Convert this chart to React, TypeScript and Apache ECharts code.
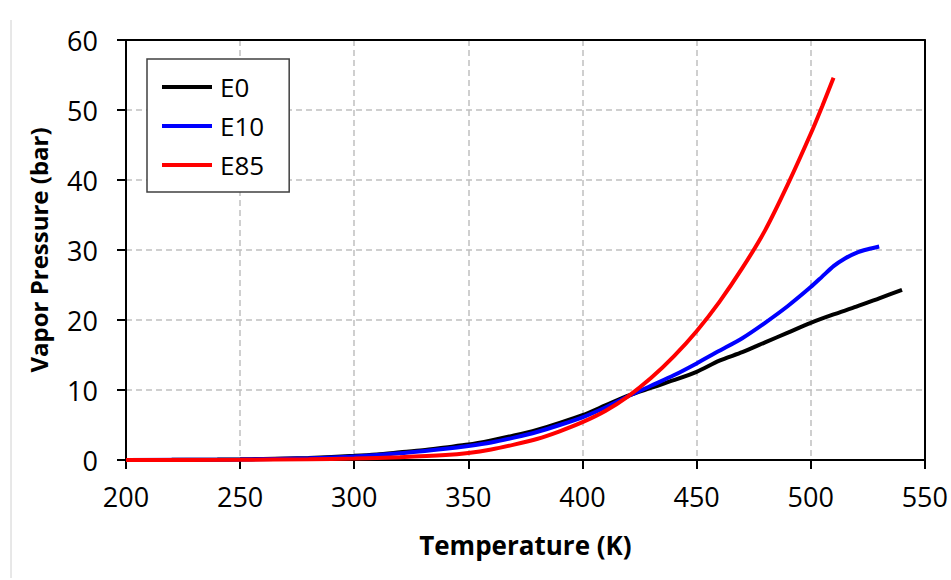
import React, { useEffect, useRef } from "react";
import * as echarts from "echarts";

const tempE0 = [200, 220, 240, 250, 260, 280, 300, 310, 320, 330, 340, 350, 360, 370, 380, 390, 400, 410, 420, 430, 440, 450, 460, 470, 480, 490, 500, 510, 520, 530, 540];
const presE0 = [0.0, 0.02, 0.06, 0.1, 0.15, 0.3, 0.6, 0.8, 1.1, 1.4, 1.8, 2.2, 2.8, 3.5, 4.3, 5.3, 6.4, 7.8, 9.2, 10.3, 11.4, 12.6, 14.2, 15.4, 16.8, 18.2, 19.6, 20.8, 21.9, 23.1, 24.3];

const tempE10 = [200, 250, 280, 300, 320, 340, 350, 360, 370, 380, 390, 400, 410, 420, 430, 440, 450, 460, 470, 480, 490, 500, 505, 510, 515, 520, 525, 530];
const presE10 = [0.0, 0.08, 0.25, 0.5, 0.95, 1.6, 2.0, 2.5, 3.2, 4.0, 5.0, 6.1, 7.5, 9.1, 10.6, 12.1, 13.8, 15.6, 17.4, 19.6, 22.0, 24.7, 26.2, 27.7, 28.8, 29.6, 30.1, 30.5];

const tempE85 = [200, 250, 280, 300, 320, 340, 350, 360, 370, 380, 390, 400, 410, 420, 430, 440, 450, 460, 470, 480, 490, 500, 505, 510];
const presE85 = [0.0, 0.03, 0.1, 0.2, 0.4, 0.7, 1.0, 1.5, 2.2, 3.0, 4.1, 5.4, 7.0, 9.1, 11.7, 14.8, 18.4, 22.6, 27.4, 32.8, 39.4, 46.6, 50.5, 54.6];

const seriesNames = ["E0", "E10", "E85"];
const seriesColors = ["#000000", "#0000ff", "#ff0000"];

const FONT = "'Open Sans', sans-serif";

function zip(xs: number[], ys: number[]) {
  return xs.map((x, i) => [x, ys[i]]);
}

export default function App() {
  const ref = useRef<HTMLDivElement>(null);
  useEffect(() => {
    if (!ref.current) return;
    const chart = echarts.init(ref.current, null, { renderer: "svg" });
    const datasets = [zip(tempE0, presE0), zip(tempE10, presE10), zip(tempE85, presE85)];
    const frameAxis = {
      type: "value",
      axisLine: { show: true, onZero: false, lineStyle: { color: "#000000", width: 2 } },
      axisTick: { show: false },
      axisLabel: { show: false },
      splitLine: { show: false },
    };
    chart.setOption({
      animation: false,
      backgroundColor: "#ffffff",
      grid: {
        left: 126,
        right: 24,
        top: 40,
        bottom: 120,
        show: false,
      },
      legend: {
        show: true,
        orient: "vertical",
        left: 147,
        top: 59,
        data: seriesNames,
        icon: "rect",
        itemWidth: 50,
        itemHeight: 4,
        itemGap: 13,
        padding: [15, 25, 14, 15],
        borderColor: "#404040",
        borderWidth: 1.5,
        backgroundColor: "#ffffff",
        textStyle: { fontFamily: FONT, fontSize: 26, color: "#000000", padding: [0, 0, 0, 3] },
      },
      xAxis: [
        {
          type: "value",
          min: 200,
          max: 550,
          interval: 50,
          name: "Temperature (K)",
          nameLocation: "middle",
          nameGap: 72,
          nameTextStyle: { fontFamily: FONT, fontSize: 26, fontWeight: "bold", color: "#000000" },
          axisLine: { show: true, onZero: false, lineStyle: { color: "#000000", width: 2 } },
          axisTick: { show: true, inside: false, length: 9, lineStyle: { color: "#000000", width: 2 } },
          axisLabel: { fontFamily: FONT, fontSize: 27, color: "#000000", margin: 23 },
          splitLine: { show: true, lineStyle: { color: "#c0c0c0", width: 1.5, type: [6, 4] } },
        },
        { ...frameAxis, position: "top", min: 200, max: 550 },
      ],
      yAxis: [
        {
          type: "value",
          min: 0,
          max: 60,
          interval: 10,
          name: "Vapor Pressure (bar)",
          nameLocation: "middle",
          nameGap: 76,
          nameTextStyle: { fontFamily: FONT, fontSize: 24, fontWeight: "bold", color: "#000000" },
          axisLine: { show: true, onZero: false, lineStyle: { color: "#000000", width: 2 } },
          axisTick: { show: true, inside: false, length: 9, lineStyle: { color: "#000000", width: 2 } },
          axisLabel: { fontFamily: FONT, fontSize: 27, color: "#000000", margin: 28 },
          splitLine: { show: true, lineStyle: { color: "#c0c0c0", width: 1.5, type: [6, 4] } },
        },
        { ...frameAxis, position: "right", min: 0, max: 60 },
      ],
      graphic: [
        {
          type: "line",
          shape: { x1: 11, y1: 20, x2: 11, y2: 578 },
          style: { stroke: "#d0d0d0", lineWidth: 1 },
          silent: true,
        },
      ],
      series: seriesNames.map((name, i) => ({
        name,
        type: "line",
        xAxisIndex: 0,
        yAxisIndex: 0,
        data: datasets[i],
        symbol: "none",
        smooth: 0.25,
        lineStyle: { color: seriesColors[i], width: 4 },
        itemStyle: { color: seriesColors[i] },
        z: 3 + i,
      })),
    });
    return () => chart.dispose();
  }, []);
  return (
    <div
      ref={ref}
      style={{ width: 951, height: 580, position: "absolute", left: 0, top: 0, background: "#fff" }}
    />
  );
}
